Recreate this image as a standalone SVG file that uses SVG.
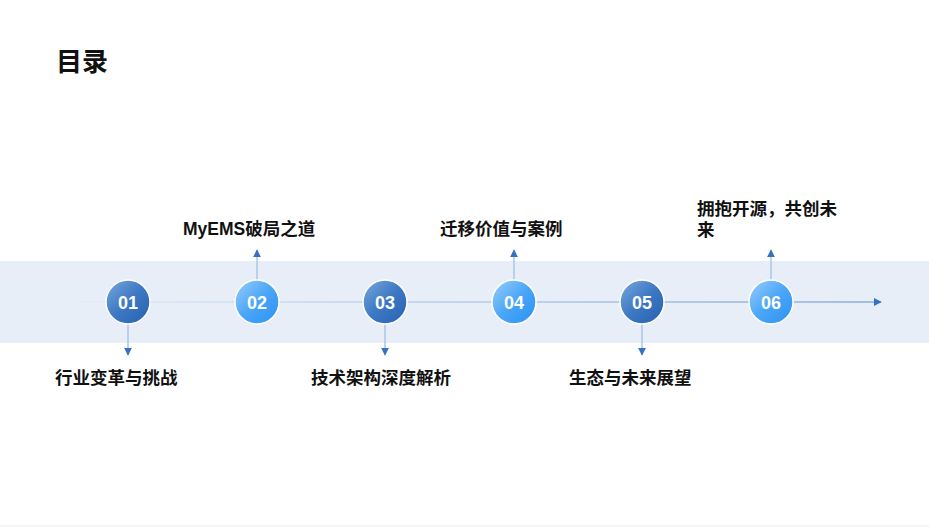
<svg xmlns="http://www.w3.org/2000/svg" width="929" height="527" viewBox="0 0 929 527">
<defs>
<linearGradient id="gDark" x1="0" y1="0" x2="1" y2="1">
<stop offset="0" stop-color="#7aa9dd"/>
<stop offset="0.5" stop-color="#3d78c4"/>
<stop offset="1" stop-color="#2762ae"/>
</linearGradient>
<linearGradient id="gLight" x1="0" y1="0" x2="1" y2="1">
<stop offset="0" stop-color="#9ccdfb"/>
<stop offset="0.5" stop-color="#4aa6f8"/>
<stop offset="1" stop-color="#2a92f2"/>
</linearGradient>
<linearGradient id="gLine" gradientUnits="userSpaceOnUse" x1="80" y1="0" x2="880" y2="0">
<stop offset="0" stop-color="#e3ebf6"/>
<stop offset="0.3" stop-color="#c3d7f0"/>
<stop offset="1" stop-color="#88aedd"/>
</linearGradient>
<marker id="arr" viewBox="0 0 10 10" refX="9" refY="5" markerWidth="8" markerHeight="8" markerUnits="userSpaceOnUse" orient="auto">
<path d="M0,0 L10,5 L0,10 z" fill="#3572bf"/>
</marker>
<style>
.lbl{font-family:"Liberation Sans","Noto Sans CJK SC",sans-serif;font-weight:bold;font-size:17.5px;fill:#111}
.num{font-family:"Liberation Sans","Noto Sans CJK SC",sans-serif;font-weight:bold;font-size:18px;fill:#fff;text-anchor:middle}
.dark{fill:url(#gDark);stroke:#fff;stroke-width:1.5}
.light{fill:url(#gLight);stroke:#fff;stroke-width:1.5}
.conn{stroke:#a9c6ea;stroke-width:1.5;fill:none}
</style>
</defs>
<rect width="929" height="527" fill="#fff"/>
<line x1="0" y1="526" x2="929" y2="526" stroke="#ececec" stroke-width="1"/>
<text x="56" y="71" font-family="Liberation Sans,Noto Sans CJK SC,sans-serif" font-weight="bold" font-size="26" fill="#111">目录</text>
<rect x="0" y="261" width="929" height="82" fill="#e8eef7"/>
<g id="connectors">
<line x1="80" y1="302" x2="881" y2="302" stroke="url(#gLine)" stroke-width="1.5" marker-end="url(#arr)"/>
<line class="conn" x1="128" y1="324" x2="128" y2="355" marker-end="url(#arr)"/>
<line class="conn" x1="257" y1="280" x2="257" y2="250" marker-end="url(#arr)"/>
<line class="conn" x1="385" y1="324" x2="385" y2="355" marker-end="url(#arr)"/>
<line class="conn" x1="514" y1="280" x2="514" y2="250" marker-end="url(#arr)"/>
<line class="conn" x1="642" y1="324" x2="642" y2="355" marker-end="url(#arr)"/>
<line class="conn" x1="771" y1="280" x2="771" y2="250" marker-end="url(#arr)"/>
</g>
<g id="node01"><circle class="dark" cx="128" cy="302" r="22"/><text class="num" x="128" y="308.5">01</text><text class="lbl" x="55" y="384">行业变革与挑战</text></g>
<g id="node02"><circle class="light" cx="257" cy="302" r="22"/><text class="num" x="257" y="308.5">02</text><text class="lbl" x="183" y="235">MyEMS破局之道</text></g>
<g id="node03"><circle class="dark" cx="385" cy="302" r="22"/><text class="num" x="385" y="308.5">03</text><text class="lbl" x="311" y="384">技术架构深度解析</text></g>
<g id="node04"><circle class="light" cx="514" cy="302" r="22"/><text class="num" x="514" y="308.5">04</text><text class="lbl" x="440" y="235">迁移价值与案例</text></g>
<g id="node05"><circle class="dark" cx="642" cy="302" r="22"/><text class="num" x="642" y="308.5">05</text><text class="lbl" x="569" y="384">生态与未来展望</text></g>
<g id="node06"><circle class="light" cx="771" cy="302" r="22"/><text class="num" x="771" y="308.5">06</text><text class="lbl" x="697" y="215">拥抱开源，共创未</text><text class="lbl" x="697" y="236">来</text></g>
</svg>
